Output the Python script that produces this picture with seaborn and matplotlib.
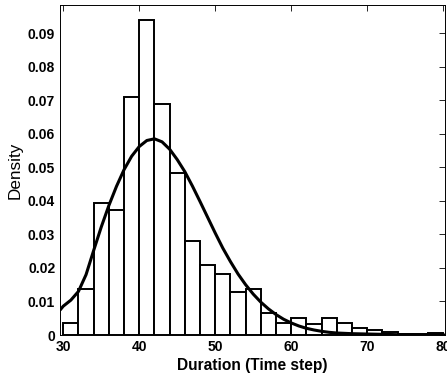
import numpy as np
import matplotlib
matplotlib.use('Agg')
import matplotlib.pyplot as plt
import seaborn as sns

# histogram: bins of width 2 from 30 to 80, heights read as density
bin_edges = list(range(30, 82, 2))
bin_heights = [0.0037, 0.0138, 0.0394, 0.0373, 0.0711, 0.0938, 0.0690, 0.0483,
               0.0280, 0.0210, 0.0181, 0.0129, 0.0137, 0.0065, 0.0037, 0.0052,
               0.0032, 0.0050, 0.0037, 0.0022, 0.0015, 0.0008, 0.0002, 0.0002,
               0.0007]

# fitted density curve
curve_x = [29.6, 30, 31, 32, 33, 34, 35, 36, 37, 38, 39, 40, 41, 42, 43, 44,
           45, 46, 47, 48, 49, 50, 51, 52, 53, 54, 55, 56, 57, 58, 59, 60,
           61, 62, 63, 64, 65, 66, 68, 70, 72, 74, 76, 78, 80.3]
curve_y = [0.0075, 0.0086, 0.0104, 0.0130, 0.0180, 0.0252, 0.0322, 0.0386,
           0.0443, 0.0493, 0.0533, 0.0562, 0.0580, 0.0585, 0.0576, 0.0554,
           0.0523, 0.0487, 0.0444, 0.0398, 0.0351, 0.0304, 0.0259, 0.0219,
           0.0182, 0.0150, 0.0122, 0.0098, 0.0078, 0.0061, 0.0047, 0.0036,
           0.0027, 0.0020, 0.0015, 0.0011, 0.0008, 0.0006, 0.0004, 0.0003,
           0.0002, 0.0001, 0.0001, 0.0000, 0.0000]

sns.set_style('white')
plt.rcParams['font.family'] = ['Liberation Sans', 'DejaVu Sans']
plt.rcParams['text.color'] = 'black'
plt.rcParams['axes.labelcolor'] = 'black'
plt.rcParams['xtick.color'] = 'black'
plt.rcParams['ytick.color'] = 'black'

bin_centers = [(a + b) / 2 for a, b in zip(bin_edges[:-1], bin_edges[1:])]

fig = plt.figure(figsize=(4.47, 3.76), dpi=100)
ax = fig.add_axes([0.1342, 0.109, 0.8624, 0.8777])

sns.histplot(x=bin_centers, weights=bin_heights, bins=bin_edges, stat='count',
             color='white', edgecolor='black', linewidth=1.4, alpha=1, ax=ax)
sns.lineplot(x=curve_x, y=curve_y, color='black', linewidth=2.2, ax=ax)

ax.set_xlim(29.57, 80.3)
ax.set_ylim(0, 0.0984)
ax.set_xticks([30, 40, 50, 60, 70, 80])
ax.set_yticks(np.arange(0, 0.095, 0.01))
ax.set_yticklabels(['0'] + ['%.2f' % v for v in np.arange(0.01, 0.095, 0.01)])
ax.tick_params(direction='in', top=True, right=True, length=4, width=0.6,
               labelsize=10)
ax.tick_params(axis='x', pad=3.5)
ax.tick_params(axis='y', pad=3.5)
for lab in ax.get_xticklabels() + ax.get_yticklabels():
    lab.set_fontweight('bold')
for s in ax.spines.values():
    s.set_color('black')
    s.set_linewidth(0.7)

ax.set_xlabel('Duration (Time step)', fontsize=11.2, fontweight='bold', labelpad=3)
ax.set_ylabel('Density', fontsize=12.3, labelpad=4)

fig.savefig('out.png', dpi=100)
